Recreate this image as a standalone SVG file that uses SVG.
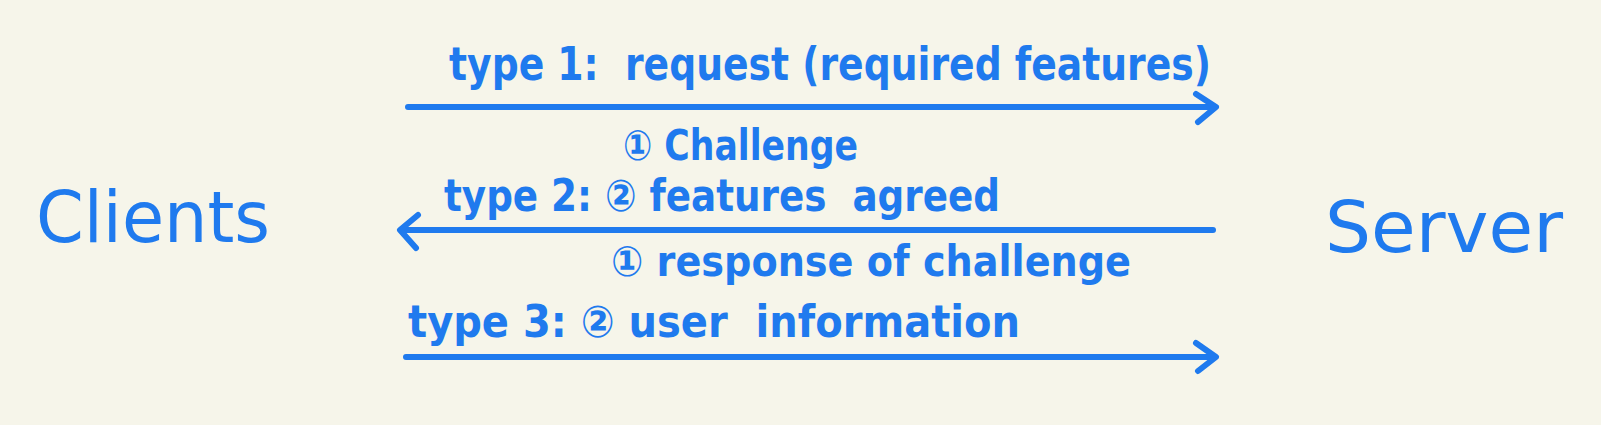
<svg xmlns="http://www.w3.org/2000/svg" width="1601" height="425" viewBox="0 0 1601 425">
<defs>
<style>
.bg{fill:#f6f5ea}
.t{fill:#1f7aee;font-family:"DejaVu Sans Condensed","DejaVu Sans",sans-serif;font-weight:bold;white-space:pre}
.big{fill:#1f7aee;font-family:"DejaVu Sans","Noto Sans",sans-serif;font-size:72px}
.ln{stroke:#1f7aee;stroke-width:6;fill:none;stroke-linecap:round;stroke-linejoin:round}
</style>
</defs>
<rect class="bg" x="0" y="0" width="1601" height="425"/>
<g id="clients"><text class="big" x="36" y="242" textLength="234" lengthAdjust="spacingAndGlyphs">Clients</text></g>
<g id="server"><text class="big" x="1325" y="252" textLength="238" lengthAdjust="spacingAndGlyphs">Server</text></g>
<g id="connectors">
<path class="ln" d="M408 107 H1213"/>
<path class="ln" d="M1196 94 L1216 107 L1198 122"/>
<path class="ln" d="M406 230 H1213"/>
<path class="ln" d="M418 215 L400 230 L416 248"/>
<path class="ln" d="M406 357 H1213"/>
<path class="ln" d="M1196 343 L1216 357 L1198 371"/>
</g>
<g id="labels">
<text class="t" x="449" y="80" font-size="46" textLength="762" lengthAdjust="spacingAndGlyphs" xml:space="preserve">type 1:  request (required features)</text>
<text class="t" x="623" y="160" font-size="42" textLength="235" lengthAdjust="spacingAndGlyphs">① Challenge</text>
<text class="t" x="444" y="211" font-size="44" textLength="556" lengthAdjust="spacingAndGlyphs" xml:space="preserve">type 2: ② features  agreed</text>
<text class="t" x="611" y="276" font-size="42" textLength="520" lengthAdjust="spacingAndGlyphs">① response of challenge</text>
<text class="t" x="408" y="337" font-size="44" textLength="612" lengthAdjust="spacingAndGlyphs" xml:space="preserve">type 3: ② user  information</text>
</g>
</svg>
